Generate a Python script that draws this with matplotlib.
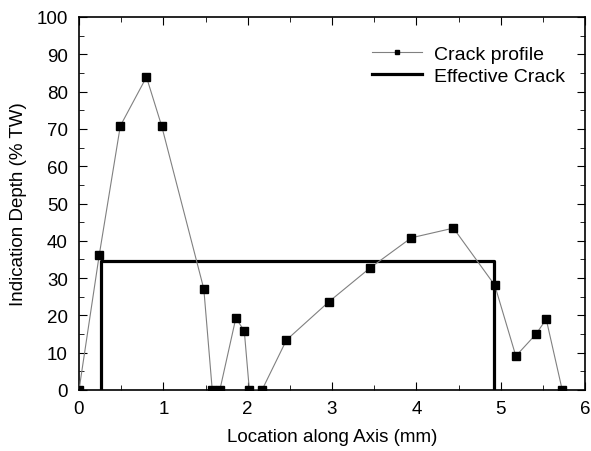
import numpy as np
import matplotlib
matplotlib.use("Agg")
import matplotlib.pyplot as plt
from matplotlib.ticker import MultipleLocator

plt.rcParams['font.family'] = ['Liberation Sans', 'DejaVu Sans']

# crack profile readings
location = [0.0, 0.24, 0.49, 0.80, 0.98, 1.48, 1.58, 1.67, 1.86, 1.96, 2.02, 2.17,
            2.46, 2.96, 3.45, 3.94, 4.44, 4.93, 5.18, 5.42, 5.54, 5.73]
depth = [0.0, 36.2, 70.8, 83.9, 70.8, 27.1, 0.0, 0.0, 19.3, 15.8, 0.0, 0.0,
         13.4, 23.6, 32.7, 40.8, 43.4, 28.1, 9.1, 15.0, 19.0, 0.0]

# effective crack outline
eff_x = [0.26, 0.26, 4.92, 4.92]
eff_y = [0.0, 34.6, 34.6, 0.0]

fig = plt.figure(figsize=(5.91, 4.52), dpi=100)
ax = fig.add_axes([79 / 591, 1 - 391 / 452, (585 - 79) / 591, (391 - 18) / 452])

ax.plot(location, depth, color='#808080', lw=0.8, marker='s', ms=6,
        mfc='black', mec='black', label='Crack profile', zorder=3)
ax.plot(eff_x, eff_y, color='black', lw=2.3, label='Effective Crack', zorder=2)

ax.set_xlim(0, 6)
ax.set_ylim(0, 100)
ax.xaxis.set_major_locator(MultipleLocator(1))
ax.xaxis.set_minor_locator(MultipleLocator(0.5))
ax.yaxis.set_major_locator(MultipleLocator(10))
ax.yaxis.set_minor_locator(MultipleLocator(5))
ax.tick_params(which='both', direction='in', top=True, right=True, labelsize=13.5)
ax.tick_params(axis='x', which='major', pad=7)
ax.tick_params(axis='y', which='major', pad=8)
ax.tick_params(which='major', length=6)
ax.tick_params(which='minor', length=3.5)
for s in ax.spines.values():
    s.set_linewidth(1.2)

ax.set_xlabel('Location along Axis (mm)', fontsize=13.5, labelpad=8)
ax.set_ylabel('Indication Depth (% TW)', fontsize=13.5, labelpad=7)

ax.legend(loc='upper right', frameon=False, fontsize=14, markerscale=0.6,
          handlelength=2.6, handletextpad=0.6, labelspacing=0.2,
          bbox_to_anchor=(0.995, 0.97))

fig.savefig('out.png', dpi=100)
